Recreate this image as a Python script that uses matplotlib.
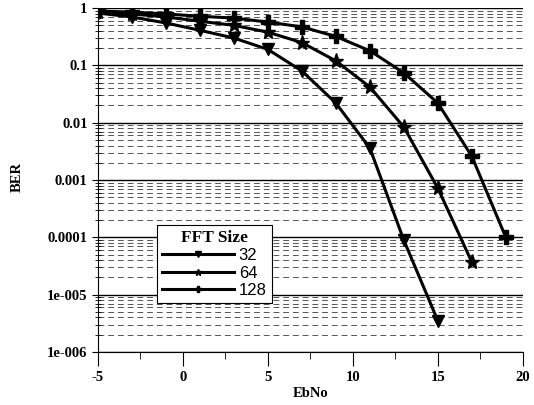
import matplotlib
matplotlib.use("Agg")
import matplotlib.pyplot as plt
from matplotlib.ticker import LogLocator, FixedLocator, NullFormatter

ebno = [-5, -3, -1, 1, 3, 5, 7, 9, 11, 13, 15, 17, 19]
ber_32 = [0.82, 0.70, 0.55, 0.41, 0.30, 0.19, 0.08, 0.022, 0.0036, 8.9e-5, 3.5e-6]
ber_64 = [0.85, 0.79, 0.70, 0.59, 0.50, 0.38, 0.25, 0.12, 0.042, 0.0084, 7.2e-4, 3.7e-5]
ber_128 = [0.89, 0.85, 0.79, 0.72, 0.67, 0.57, 0.47, 0.32, 0.18, 0.074, 0.022, 0.0026, 1.0e-4]

ytick_vals = [1, 0.1, 0.01, 0.001, 0.0001, 1e-5, 1e-6]
ytick_labels = ["1", "0.1", "0.01", "0.001", "0.0001", "1e-005", "1e-006"]
xtick_vals = [-5, 0, 5, 10, 15, 20]

serif = "Liberation Serif"
sans = "Liberation Sans"

fig = plt.figure(figsize=(5.34, 4.05), dpi=100)
ax = fig.add_axes([0.1835, 0.131, 0.7955, 0.849])

ax.plot(ebno[:len(ber_32)], ber_32, color="black", lw=2.2, marker="v", ms=9, label="32")
ax.plot(ebno[:len(ber_64)], ber_64, color="black", lw=2.2, marker="*", ms=11, label="64")
ax.plot(ebno[:len(ber_128)], ber_128, color="black", lw=2.2, marker="P", ms=10, label="128")

ax.set_yscale("log")
ax.set_ylim(1e-6, 1)
ax.set_xlim(-5, 20)

ax.set_yticks(ytick_vals)
ax.set_yticklabels(ytick_labels, fontfamily=serif, fontweight="bold", fontsize=10.5)
ax.yaxis.set_minor_locator(LogLocator(base=10, subs=range(2, 10)))
ax.yaxis.set_minor_formatter(NullFormatter())
ax.set_xticks(xtick_vals)
ax.set_xticklabels([str(v) for v in xtick_vals], fontfamily=serif, fontweight="bold", fontsize=10.5)
ax.xaxis.set_minor_locator(FixedLocator([-2.5, 2.5, 7.5, 12.5, 17.5]))

ax.grid(True, which="major", axis="y", color="black", lw=1.0, ls="-")
ax.grid(True, which="minor", axis="y", color="#555555", lw=0.7, ls=(0, (6, 4)))

ax.spines["top"].set_visible(False)
ax.spines["right"].set_visible(False)
ax.spines["left"].set_linewidth(0.8)
ax.spines["bottom"].set_linewidth(0.8)
ax.tick_params(axis="x", which="major", direction="out", length=10, pad=4)
ax.tick_params(axis="x", which="minor", direction="out", length=5)
ax.tick_params(axis="y", which="major", direction="out", length=4)
ax.tick_params(axis="y", which="minor", direction="inout", length=4)

ax.set_xlabel("EbNo", fontfamily=serif, fontweight="bold", fontsize=10.5, labelpad=2)
ax.set_ylabel("BER", fontfamily=serif, fontweight="bold", fontsize=10.5)
ax.yaxis.set_label_coords(-0.175, 0.51)

leg = ax.legend(loc="lower left", bbox_to_anchor=(0.139, 0.142), title="FFT Size",
                prop={"family": sans, "size": 12}, markerscale=0.45,
                frameon=True, fancybox=False, edgecolor="black", framealpha=1,
                handlelength=4.3, handletextpad=0.3, borderpad=0.3, labelspacing=0.15,
                borderaxespad=0)
leg.get_title().set_fontfamily(serif)
leg.get_title().set_fontweight("bold")
leg.get_title().set_fontsize(12.5)
leg.get_frame().set_linewidth(0.8)

fig.savefig("out.png", dpi=100)
